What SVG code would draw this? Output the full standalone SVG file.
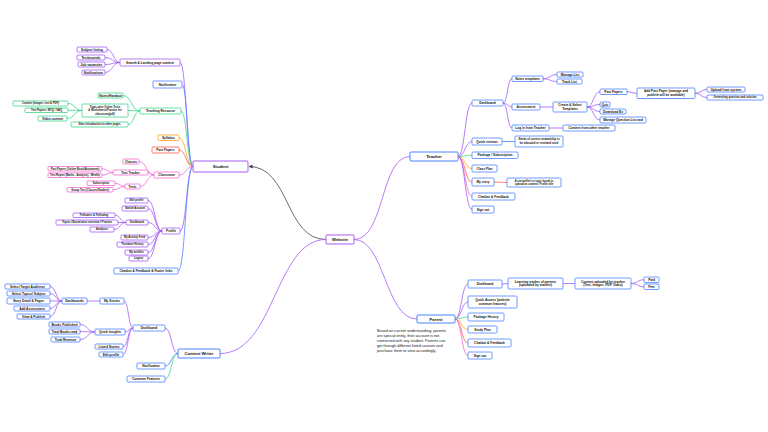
<svg xmlns="http://www.w3.org/2000/svg" width="768" height="432" viewBox="0 0 768 432">
<style>
rect{fill:#fff;stroke-width:0.8}
text{font-family:"Liberation Sans",Arial,sans-serif;font-size:3.2px;font-weight:700;fill:#111;text-anchor:middle}
text.s{font-size:2.7px}
.m{font-size:4.2px}
.note{font-size:3.8px;font-weight:400;text-anchor:start}
rect.p{stroke:#a35cf5}rect.b{stroke:#4b83ff}rect.g{stroke:#3fd68a}rect.o{stroke:#ffa11a}rect.r{stroke:#ff5a4a}rect.k{stroke:#f26bd2}
#connectors path{fill:none;stroke-width:0.8}
path.p{stroke:#a35cf5}path.b{stroke:#4b83ff}path.g{stroke:#3fd68a}path.o{stroke:#ffa11a}path.r{stroke:#ff5a4a}path.k{stroke:#f26bd2}path.d{stroke:#444}
</style>
<defs>
<marker id="ah" viewBox="0 0 10 10" refX="9" refY="5" markerWidth="5" markerHeight="5" orient="auto"><path d="M0,0L10,5L0,10z" fill="#444"/></marker>
</defs>
<rect x="0" y="0" width="768" height="432" style="fill:#fff;stroke:none"/>
<g id="connectors">
<path class="d" d="M326,239.5 C285,239.5 290,166.5 249,166.5" marker-end="url(#ah)"/>
<path class="p" d="M326,239.5 C275,239.5 275,353.5 220,353.5"/>
<path class="p" d="M354,239.5 C385,239.5 380,156.5 410,156.5"/>
<path class="p" d="M354,239.5 C385,239.5 385,319 417,319"/>
<path class="p" d="M180,62.5 C186.5,62.5 186.5,166.5 193,166.5"/>
<path class="b" d="M182,84.5 C187.5,84.5 187.5,166.5 193,166.5"/>
<path class="g" d="M181,111 C187,111 187,166.5 193,166.5"/>
<path class="o" d="M179,137.75 C186,137.75 186,166.5 193,166.5"/>
<path class="r" d="M179,150 C186,150 186,166.5 193,166.5"/>
<path class="k" d="M179,175 C186,175 186,166.5 193,166.5"/>
<path class="p" d="M180,231 C186.5,231 186.5,166.5 193,166.5"/>
<path class="b" d="M178,271 C185.5,271 185.5,166.5 193,166.5"/>
<path class="p" d="M107,49.5 C113.5,49.5 113.5,62.5 120,62.5"/>
<path class="p" d="M105,57.5 C112.5,57.5 112.5,62.5 120,62.5"/>
<path class="p" d="M105,64.5 C112.5,64.5 112.5,62.5 120,62.5"/>
<path class="p" d="M105,72.5 C112.5,72.5 112.5,62.5 120,62.5"/>
<path class="g" d="M123,95.5 C131.5,95.5 131.5,111 140,111"/>
<path class="g" d="M128,110.5 C134,110.5 134,111 140,111"/>
<path class="g" d="M128,124.5 C134,124.5 134,111 140,111"/>
<path class="g" d="M68,103.5 C75,103.5 75,110.5 82,110.5"/>
<path class="g" d="M68,110.25 C75,110.25 75,110.5 82,110.5"/>
<path class="g" d="M67,118.5 C74.5,118.5 74.5,110.5 82,110.5"/>
<path class="k" d="M139,161.5 C146.5,161.5 146.5,175 154,175"/>
<path class="k" d="M148,172.5 C151,172.5 151,175 154,175"/>
<path class="k" d="M140,186.5 C147,186.5 147,175 154,175"/>
<path class="k" d="M102,168.75 C107.5,168.75 107.5,172.5 113,172.5"/>
<path class="k" d="M102,175.25 C107.5,175.25 107.5,172.5 113,172.5"/>
<path class="k" d="M115,183.25 C120,183.25 120,186.5 125,186.5"/>
<path class="k" d="M113,189.75 C119,189.75 119,186.5 125,186.5"/>
<path class="p" d="M148,200.5 C155,200.5 155,231 162,231"/>
<path class="p" d="M148,208.5 C155,208.5 155,231 162,231"/>
<path class="p" d="M148,222.5 C155,222.5 155,231 162,231"/>
<path class="p" d="M148,237.5 C155,237.5 155,231 162,231"/>
<path class="p" d="M148,244.5 C155,244.5 155,231 162,231"/>
<path class="p" d="M148,252.5 C155,252.5 155,231 162,231"/>
<path class="p" d="M148,258.5 C155,258.5 155,231 162,231"/>
<path class="p" d="M115,215.25 C120.5,215.25 120.5,222.5 126,222.5"/>
<path class="p" d="M118,222.5 L126,222.5"/>
<path class="p" d="M114,229.5 C120,229.5 120,222.5 126,222.5"/>
<path class="p" d="M165,328 C171.5,328 171.5,353.5 178,353.5"/>
<path class="b" d="M165,366 C171.5,366 171.5,353.5 178,353.5"/>
<path class="g" d="M165,379 C171.5,379 171.5,353.5 178,353.5"/>
<path class="p" d="M124,301 C128.5,301 128.5,328 133,328"/>
<path class="p" d="M125,332 C129,332 129,328 133,328"/>
<path class="p" d="M123,346.5 C128,346.5 128,328 133,328"/>
<path class="p" d="M123,354.5 C128,354.5 128,328 133,328"/>
<path class="p" d="M87,301 L100,301"/>
<path class="p" d="M50,286.5 C56,286.5 56,301 62,301"/>
<path class="p" d="M50,293.5 C56,293.5 56,301 62,301"/>
<path class="p" d="M50,301 L62,301"/>
<path class="p" d="M50,308.5 C56,308.5 56,301 62,301"/>
<path class="p" d="M50,316.5 C56,316.5 56,301 62,301"/>
<path class="p" d="M80,324.5 C87.5,324.5 87.5,332 95,332"/>
<path class="p" d="M80,331.5 C87.5,331.5 87.5,332 95,332"/>
<path class="p" d="M80,339.5 C87.5,339.5 87.5,332 95,332"/>
<path class="p" d="M458,156.5 C465,156.5 465,103 472,103"/>
<path class="p" d="M458,156.5 C465,156.5 465,141.5 472,141.5"/>
<path class="g" d="M458,156.5 C465,156.5 465,155.25 472,155.25"/>
<path class="o" d="M458,156.5 C465,156.5 465,168.5 472,168.5"/>
<path class="r" d="M458,156.5 C465,156.5 465,182 472,182"/>
<path class="k" d="M458,156.5 C465,156.5 465,196.5 472,196.5"/>
<path class="p" d="M458,156.5 C465,156.5 465,209.5 472,209.5"/>
<path class="p" d="M503,103 C507.5,103 507.5,78.75 512,78.75"/>
<path class="p" d="M503,103 C507.5,103 507.5,107 512,107"/>
<path class="p" d="M503,103 C507.5,103 507.5,128 512,128"/>
<path class="p" d="M543,78.75 C550,78.75 550,74.5 557,74.5"/>
<path class="p" d="M543,78.75 C550,78.75 550,81.5 557,81.5"/>
<path class="p" d="M540,107 L553,107"/>
<path class="p" d="M587,107 C593.5,107 593.5,91.75 600,91.75"/>
<path class="p" d="M587,107 C593.5,107 593.5,104.5 600,104.5"/>
<path class="p" d="M587,107 C593.5,107 593.5,111.5 600,111.5"/>
<path class="p" d="M587,107 C593.5,107 593.5,120 600,120"/>
<path class="p" d="M627,91.75 C632,91.75 632,93.25 637,93.25"/>
<path class="p" d="M695,93.25 C701,93.25 701,89.5 707,89.5"/>
<path class="p" d="M695,93.25 C701,93.25 701,97.5 707,97.5"/>
<path class="p" d="M549,128 L563,128"/>
<path class="b" d="M502,141.5 L515,141.5"/>
<path class="r" d="M494,182 L507,182.5"/>
<path class="p" d="M455,319 C461.5,319 461.5,284 468,284"/>
<path class="p" d="M455,319 C461.5,319 461.5,302 468,302"/>
<path class="g" d="M455,319 C461.5,319 461.5,317 468,317"/>
<path class="o" d="M455,319 C461.5,319 461.5,329.5 468,329.5"/>
<path class="r" d="M455,319 C461.5,319 461.5,343 468,343"/>
<path class="k" d="M455,319 C461.5,319 461.5,355.5 468,355.5"/>
<path class="p" d="M502,284 L508,283.5"/>
<path class="p" d="M563,283.5 L575,283.5"/>
<path class="p" d="M631,283.5 C637.5,283.5 637.5,279.75 644,279.75"/>
<path class="p" d="M631,283.5 C637.5,283.5 637.5,286.75 644,286.75"/>
</g>
<g id="website"><rect class="p" x="326" y="235" width="28" height="9" rx="1" style="stroke-width:1"/><text class="m" x="340" y="241">Website</text></g>
<g id="student"><rect class="p" x="193" y="161" width="55" height="11" rx="1" style="stroke-width:1"/><text class="m" x="220.5" y="168">Student</text></g>
<g id="teacher"><rect class="b" x="410" y="152" width="48" height="9" rx="1" style="stroke-width:1"/><text class="m" x="434" y="158">Teacher</text></g>
<g id="parent"><rect class="b" x="417" y="315" width="38" height="8" rx="1" style="stroke-width:1"/><text class="m" x="436" y="320.5">Parent</text></g>
<g id="content-writer"><rect class="b" x="178" y="349" width="42" height="9" rx="1" style="stroke-width:1"/><text class="m" x="199" y="355">Content Writer</text></g>

<g id="s-search"><rect class="p" x="120" y="59" width="60" height="7" rx="1"/><text x="150" y="63.6">Search &amp; Landing page content</text></g>
<g id="s-search-1"><rect class="p" x="77" y="47" width="30" height="5" rx="1"/><text x="92" y="50.6">Subject listing</text></g>
<g id="s-search-2"><rect class="p" x="77" y="55" width="28" height="5" rx="1"/><text x="91" y="58.6">Testimonials</text></g>
<g id="s-search-3"><rect class="p" x="78" y="62" width="27" height="5" rx="1"/><text x="91.5" y="65.6">Job vacancies</text></g>
<g id="s-search-4"><rect class="p" x="82" y="70" width="23" height="5" rx="1"/><text x="93.5" y="73.6">Notifications</text></g>
<g id="s-notification"><rect class="b" x="153" y="81" width="29" height="7" rx="1"/><text x="167.5" y="85.6">Notification</text></g>
<g id="s-teaching"><rect class="g" x="140" y="108" width="41" height="6" rx="1"/><text x="160.5" y="112.1">Teaching Resource</text></g>
<g id="s-notes"><rect class="g" x="98" y="93" width="25" height="5" rx="1"/><text x="110.5" y="96.6">Notes/Handout</text></g>
<g id="s-topic"><rect class="g" x="82" y="104" width="46" height="13" rx="1"/><text class="s" x="105" y="107.9">Topic-wise Online Tests</text><text class="s" x="105" y="111.4">&amp; Worksheets/Practice for</text><text class="s" x="105" y="114.9">classroom(pdf)</text></g>
<g id="s-topic-1"><rect class="g" x="13" y="101" width="55" height="5" rx="1"/><text class="s" x="40.5" y="104.4">Content (Images, text &amp; PDF)</text></g>
<g id="s-topic-2"><rect class="g" x="25" y="108" width="43" height="4.5" rx="1"/><text class="s" x="46.5" y="111.2">Test Papers: MCQ / SAQ</text></g>
<g id="s-topic-3"><rect class="g" x="38" y="116" width="29" height="5" rx="1"/><text x="52.5" y="119.6">Video content</text></g>
<g id="s-sites"><rect class="g" x="71" y="122" width="57" height="5" rx="1"/><text class="s" x="99.5" y="125.4">Sites Introduction to other pages</text></g>
<g id="s-syllabus"><rect class="o" x="158" y="135" width="21" height="5.5" rx="1"/><text x="168.5" y="138.9">Syllabus</text></g>
<g id="s-pastpapers"><rect class="r" x="152" y="147" width="27" height="6" rx="1"/><text x="165.5" y="151.1">Past Papers</text></g>
<g id="s-classroom"><rect class="k" x="154" y="172" width="25" height="6" rx="1"/><text x="166.5" y="176.1">Classroom</text></g>
<g id="s-classes"><rect class="k" x="123" y="159" width="16" height="5" rx="1"/><text x="131" y="162.6">Classes</text></g>
<g id="s-tracker"><rect class="k" x="113" y="170" width="35" height="5" rx="1"/><text x="130.5" y="173.6">Test Tracker</text></g>
<g id="s-tracker-1"><rect class="k" x="48" y="166.5" width="54" height="4.5" rx="1"/><text class="s" x="75" y="169.7">Past Papers (Online Mock/Attainment)</text></g>
<g id="s-tracker-2"><rect class="k" x="48" y="173" width="54" height="4.5" rx="1"/><text class="s" x="75" y="176.2">Test Report (Marks - Analysis) - Weekly</text></g>
<g id="s-tests"><rect class="k" x="125" y="184" width="15" height="5" rx="1"/><text x="132.5" y="187.6">Tests</text></g>
<g id="s-tests-1"><rect class="k" x="87" y="181" width="28" height="4.5" rx="1"/><text class="s" x="101" y="184.2">Subscription</text></g>
<g id="s-tests-2"><rect class="k" x="67" y="187.5" width="46" height="4.5" rx="1"/><text class="s" x="90" y="190.7">Group Test (Classes/Student)</text></g>
<g id="s-profile"><rect class="p" x="162" y="228" width="18" height="6" rx="1"/><text x="171" y="232.1">Profile</text></g>
<g id="s-edit"><rect class="p" x="125" y="198" width="23" height="5" rx="1"/><text class="s" x="136.5" y="201.4">Edit profile</text></g>
<g id="s-switch"><rect class="p" x="122" y="206" width="26" height="5" rx="1"/><text class="s" x="135" y="209.4">Switch Account</text></g>
<g id="s-dashboard"><rect class="p" x="126" y="220" width="22" height="5" rx="1"/><text class="s" x="137" y="223.4">Dashboard</text></g>
<g id="s-dash-1"><rect class="p" x="73" y="213" width="42" height="4.5" rx="1"/><text class="s" x="94" y="216.2">Followers &amp; Following</text></g>
<g id="s-dash-2"><rect class="p" x="56" y="220" width="62" height="5" rx="1"/><text class="s" x="87" y="223.4">Topics / Board-wise overview / Practice</text></g>
<g id="s-dash-3"><rect class="p" x="90" y="227" width="24" height="5" rx="1"/><text class="s" x="102" y="230.4">Analytics</text></g>
<g id="s-activity"><rect class="p" x="121" y="235" width="27" height="5" rx="1"/><text class="s" x="134.5" y="238.4">My Activity Feed</text></g>
<g id="s-purchase"><rect class="p" x="117" y="242" width="31" height="5" rx="1"/><text class="s" x="132.5" y="245.4">Purchase History</text></g>
<g id="s-wishlist"><rect class="p" x="125" y="250" width="23" height="5" rx="1"/><text class="s" x="136.5" y="253.4">My wishlist</text></g>
<g id="s-logout"><rect class="p" x="129" y="256" width="19" height="5" rx="1"/><text class="s" x="138.5" y="259.4">Logout</text></g>
<g id="s-chatbot"><rect class="b" x="114" y="268" width="64" height="6" rx="1"/><text x="146" y="272.1">Chatbot &amp; Feedback &amp; Footer links</text></g>

<g id="c-dashboard"><rect class="b" x="133" y="325" width="32" height="6" rx="1"/><text x="149" y="329.1">Dashboard</text></g>
<g id="c-mystories"><rect class="b" x="100" y="298" width="24" height="6" rx="1"/><text x="112" y="302.1">My Stories</text></g>
<g id="c-dashboards"><rect class="b" x="62" y="298" width="25" height="6" rx="1"/><text x="74.5" y="302.1">Dashboards</text></g>
<g id="c-d1"><rect class="b" x="5" y="284" width="45" height="5" rx="1"/><text x="27.5" y="287.6">Select Target Audience</text></g>
<g id="c-d2"><rect class="b" x="7" y="291" width="43" height="5" rx="1"/><text x="28.5" y="294.6">Select Topics/ Subject</text></g>
<g id="c-d3"><rect class="b" x="7" y="298" width="43" height="6" rx="1"/><text x="28.5" y="302.1">Story Detail &amp; Pages</text></g>
<g id="c-d4"><rect class="b" x="14" y="306" width="36" height="5" rx="1"/><text x="32" y="309.6">Add Assessment</text></g>
<g id="c-d5"><rect class="b" x="17" y="314" width="33" height="5" rx="1"/><text x="33.5" y="317.6">View &amp; Publish</text></g>
<g id="c-insights"><rect class="b" x="95" y="329" width="30" height="6" rx="1"/><text x="110" y="333.1">Quick Insights</text></g>
<g id="c-i1"><rect class="b" x="49" y="322" width="31" height="5" rx="1"/><text x="64.5" y="325.6">Books Published</text></g>
<g id="c-i2"><rect class="b" x="49" y="329" width="31" height="5" rx="1"/><text x="64.5" y="332.6">Total Books read</text></g>
<g id="c-i3"><rect class="b" x="51" y="337" width="29" height="5" rx="1"/><text x="65.5" y="340.6">Total Revenue</text></g>
<g id="c-listed"><rect class="b" x="95" y="344" width="28" height="5" rx="1"/><text x="109" y="347.6">Listed Stories</text></g>
<g id="c-edit"><rect class="b" x="99" y="352" width="24" height="5" rx="1"/><text x="111" y="355.6">Edit profile</text></g>
<g id="c-notification"><rect class="b" x="137" y="363" width="28" height="6" rx="1"/><text x="151" y="367.1">Notification</text></g>
<g id="c-common"><rect class="b" x="127" y="376" width="38" height="6" rx="1"/><text x="146" y="380.1">Common Features</text></g>

<g id="t-dashboard"><rect class="b" x="472" y="100" width="31" height="6" rx="1"/><text x="487.5" y="104.1">Dashboard</text></g>
<g id="t-notes"><rect class="b" x="512" y="76" width="31" height="5.5" rx="1"/><text x="527.5" y="79.9">Notes templates</text></g>
<g id="t-manage"><rect class="b" x="557" y="72" width="26" height="5" rx="1"/><text x="570" y="75.6">Manage List</text></g>
<g id="t-track"><rect class="b" x="557" y="79" width="25" height="5" rx="1"/><text x="569.5" y="82.6">Track List</text></g>
<g id="t-assessment"><rect class="b" x="512" y="104" width="28" height="6" rx="1"/><text x="526" y="108.1">Assessment</text></g>
<g id="t-create"><rect class="b" x="553" y="102" width="34" height="10" rx="1"/><text x="570" y="106.1">Create &amp; Select</text><text x="570" y="109.8">Templates</text></g>
<g id="t-pastpapers"><rect class="b" x="600" y="89" width="27" height="5.5" rx="1"/><text x="613.5" y="92.9">Past Papers</text></g>
<g id="t-addpast"><rect class="b" x="637" y="88" width="58" height="10.5" rx="1"/><text x="666" y="92.3">Add Past Paper (manage and</text><text x="666" y="96">publish will be available)</text></g>
<g id="t-upload"><rect class="b" x="707" y="87" width="38" height="5" rx="1"/><text x="726" y="90.6">Upload from system</text></g>
<g id="t-generate"><rect class="b" x="707" y="95" width="56" height="5" rx="1"/><text class="s" x="735" y="98.4">Generating question and solution</text></g>
<g id="t-quiz"><rect class="b" x="600" y="102" width="10" height="5" rx="1"/><text x="605" y="105.6">Quiz</text></g>
<g id="t-download"><rect class="b" x="600" y="109" width="26" height="5" rx="1"/><text x="613" y="112.6">Download Ex</text></g>
<g id="t-manageq"><rect class="b" x="600" y="117" width="46" height="6" rx="1"/><text x="623" y="121.1">Manage Question List and</text></g>
<g id="t-login"><rect class="b" x="512" y="125" width="37" height="6" rx="1"/><text x="530.5" y="129.1">Log in from Teacher</text></g>
<g id="t-other"><rect class="b" x="563" y="125" width="52" height="6" rx="1"/><text x="589" y="129.1">Content from other teacher</text></g>
<g id="t-quick"><rect class="b" x="472" y="138" width="30" height="7" rx="1"/><text x="487" y="142.6">Quick reviews</text></g>
<g id="t-quick-1"><rect class="b" x="515" y="136" width="48" height="11" rx="1"/><text class="s" x="539" y="140.4">Needs of current stewardship to</text><text class="s" x="539" y="144">be educated or reviewed used</text></g>
<g id="t-package"><rect class="b" x="472" y="152" width="46" height="6.5" rx="1"/><text x="495" y="156.4">Package / Subscription</text></g>
<g id="t-class"><rect class="b" x="472" y="165" width="25" height="7" rx="1"/><text x="484.5" y="169.6">Class Plan</text></g>
<g id="t-mystory"><rect class="b" x="472" y="178" width="22" height="8" rx="1"/><text x="483" y="183.1">My story</text></g>
<g id="t-mystory-1"><rect class="b" x="507" y="178" width="54" height="9" rx="1"/><text class="s" x="534" y="181.8">A storyteller/ or topic found to</text><text class="s" x="534" y="185.3">upload an content. Profile title</text></g>
<g id="t-chatbot"><rect class="b" x="472" y="193" width="43" height="7" rx="1"/><text x="493.5" y="197.6">Chatbot &amp; Feedback</text></g>
<g id="t-signout"><rect class="b" x="472" y="206" width="22" height="7" rx="1"/><text x="483" y="210.6">Sign out</text></g>

<g id="p-dashboard"><rect class="b" x="468" y="280" width="34" height="8" rx="1"/><text x="485" y="285.1">Dashboard</text></g>
<g id="p-learning"><rect class="b" x="508" y="278" width="55" height="11" rx="1"/><text x="535.5" y="282.5">Learning tracker of parents</text><text x="535.5" y="286.3">(uploaded by teacher)</text></g>
<g id="p-content"><rect class="b" x="575" y="278" width="56" height="11" rx="1"/><text x="603" y="282.5">Content uploaded by teacher</text><text x="603" y="286.3">(Text, Images, PDF, Video)</text></g>
<g id="p-paid"><rect class="b" x="644" y="277" width="15" height="5.5" rx="1"/><text x="651.5" y="280.9">Paid</text></g>
<g id="p-free"><rect class="b" x="644" y="284" width="15" height="5.5" rx="1"/><text x="651.5" y="287.9">Free</text></g>
<g id="p-quick"><rect class="b" x="468" y="296" width="49" height="12" rx="1"/><text x="492.5" y="301">Quick Access (website</text><text x="492.5" y="304.8">common features)</text></g>
<g id="p-package"><rect class="b" x="468" y="313" width="36" height="8" rx="1"/><text x="486" y="318.1">Package History</text></g>
<g id="p-study"><rect class="b" x="468" y="326" width="29" height="7" rx="1"/><text x="482.5" y="330.6">Study Plan</text></g>
<g id="p-chatbot"><rect class="b" x="468" y="339" width="43" height="8" rx="1"/><text x="489.5" y="344.1">Chatbot &amp; Feedback</text></g>
<g id="p-signout"><rect class="b" x="468" y="352" width="24" height="7" rx="1"/><text x="480" y="356.6">Sign out</text></g>

<g id="parent-note">
<text class="note" x="377" y="331.5">Based on current understanding, parents</text>
<text class="note" x="377" y="336.5">are special entity, their account is not</text>
<text class="note" x="377" y="341.5">connected with any student. Parents can</text>
<text class="note" x="377" y="346.5">get through different listed courses and</text>
<text class="note" x="377" y="351.5">purchase them or view accordingly.</text>
</g>
</svg>
